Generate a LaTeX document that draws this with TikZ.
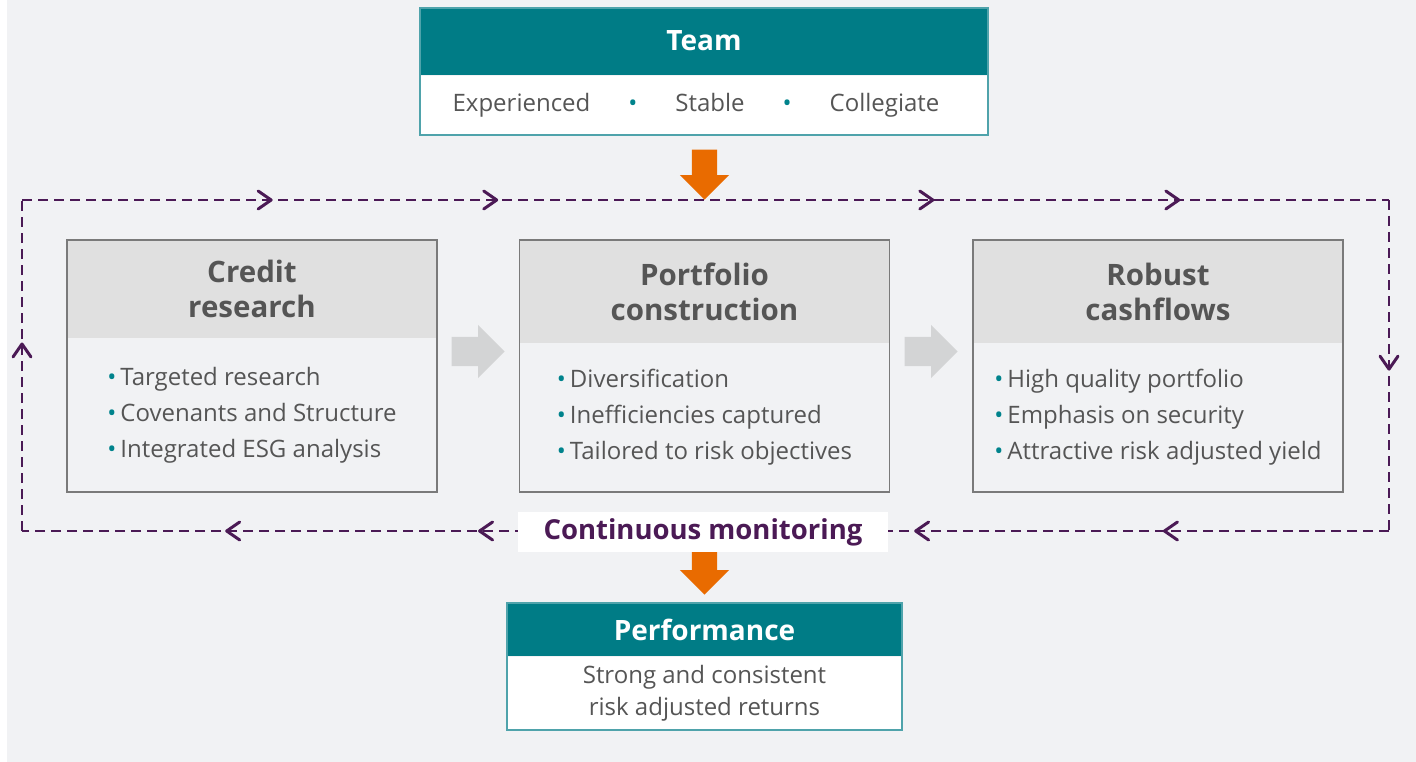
\documentclass[tikz,border=0pt]{standalone}
\usepackage{fontspec}
\setmainfont{Open Sans}
\usetikzlibrary{positioning, shapes.arrows, decorations.markings}

\definecolor{bgc}{HTML}{F1F2F4}
\definecolor{tealc}{HTML}{007C86}
\definecolor{tealedge}{HTML}{4FA3AB}
\definecolor{headc}{HTML}{E0E0E0}
\definecolor{boxc}{HTML}{7A7A7A}
\definecolor{textc}{HTML}{555555}
\definecolor{bulc}{HTML}{00838C}
\definecolor{orangec}{HTML}{E96B00}
\definecolor{purplec}{HTML}{4B1A55}
\definecolor{greyarrow}{HTML}{D3D4D5}

\newcommand{\bul}{\textcolor{bulc}{\textbullet}\hspace{4pt}}
\newcommand{\chev}{\draw[solid, line width=3pt, line join=round, line cap=round]
  (-14pt,-9pt) -- (-1pt,0pt) -- (-14pt,9pt);}

\tikzset{
  x=1pt, y=-1pt,
  teal head/.style={fill=tealc, text=white, inner sep=0pt,
    font=\bfseries\fontsize{28}{32}\selectfont},
  teal body/.style={fill=white, text=textc, inner sep=0pt, align=center,
    font=\fontsize{24}{32}\selectfont},
  stage head/.style={fill=headc, text=textc, inner sep=0pt, align=center,
    minimum width=370pt, font=\bfseries\fontsize{29.5}{35}\selectfont},
  stage body/.style={text=textc, inner sep=0pt, align=left,
    minimum width=370pt, font=\fontsize{24}{36}\selectfont},
  boxline/.style={draw=boxc, line width=1.5pt},
  tealline/.style={draw=tealedge, line width=1.5pt},
  loopline/.style={draw=purplec, line width=2pt, dash pattern=on 10pt off 6pt},
  looparrows/.style={postaction={decorate}},
  down arrow/.style={single arrow, fill=orangec, rotate=-90, anchor=tip, inner xsep=0pt, inner ysep=12.5pt,
    minimum height=50pt, minimum width=49pt, single arrow head extend=12pt},
  grey arrow/.style={single arrow, fill=greyarrow, anchor=tip, inner xsep=0pt, inner ysep=14.5pt,
    minimum height=53pt, minimum width=53pt, single arrow head extend=12pt},
}

\begin{document}
\begin{tikzpicture}
  \useasboundingbox (0,0) rectangle (1416,762);
  \fill[white] (0,0) rectangle (1416,762);
  \fill[bgc] (7,0) rectangle (1416,762);

  % team
  \node[teal head, anchor=north, minimum width=568pt, minimum height=67pt] (teamhead) at (704,8) {\raisebox{3pt}{Team}};
  \node[teal body, below=0pt of teamhead, minimum width=568pt, minimum height=59pt] (teambody)
    {\hspace*{-16pt}Experienced\hspace{38pt}\textcolor{bulc}{\textbullet}\hspace{38pt}Stable\hspace{38pt}\textcolor{bulc}{\textbullet}\hspace{38pt}Collegiate};
  \draw[tealline] (teamhead.north west) rectangle (teambody.south east);

  \node[down arrow] (down1) at (704.5,200) {};

  % loop
  \coordinate (lt) at (22,200);
  \coordinate (rt) at (1389,200);
  \coordinate (rb) at (1389,531);
  \coordinate (lb) at (22,531);
  \draw[loopline, looparrows, decoration={markings,
      mark=at position 0.183 with {\chev},
      mark=at position 0.348 with {\chev},
      mark=at position 0.667 with {\chev},
      mark=at position 0.847 with {\chev}}] (lt) -- (rt);
  \draw[loopline, looparrows, decoration={markings,
      mark=at position 0.514 with {\chev}}] (rt) -- (rb);
  \draw[loopline, looparrows, decoration={markings,
      mark=at position 0.165 with {\chev},
      mark=at position 0.347 with {\chev},
      mark=at position 0.666 with {\chev},
      mark=at position 0.851 with {\chev}}] (rb) -- (lb);
  \draw[loopline, looparrows, decoration={markings,
      mark=at position 0.568 with {\chev}}] (lb) -- (lt);

  % stages
  \node[stage head, anchor=north, minimum height=98pt] (credhead) at (252,240) {Credit\\research};
  \node[stage body, below=0pt of credhead, minimum height=153pt] (credbody)
    {\bul Targeted research\\\bul Covenants and Structure\\\bul Integrated ESG analysis};
  \draw[boxline] (credhead.north west) rectangle (credbody.south east);

  \node[stage head, anchor=north, minimum height=103pt] (porthead) at (704.5,240) {Portfolio\\construction};
  \node[stage body, below=0pt of porthead, minimum height=148pt] (portbody)
    {\bul Diversification\\\bul Inefficiencies captured\\\bul Tailored to risk objectives};
  \draw[boxline] (porthead.north west) rectangle (portbody.south east);

  \node[stage head, anchor=north, minimum height=103pt] (cashhead) at (1158,240) {Robust\\cashflows};
  \node[stage body, below=0pt of cashhead, minimum height=148pt] (cashbody)
    {\bul High quality portfolio\\\bul Emphasis on security\\\bul Attractive risk adjusted yield};
  \draw[boxline] (cashhead.north west) rectangle (cashbody.south east);

  \node[grey arrow] (grey1) at (505,351.5) {};
  \node[grey arrow] (grey2) at (958,351.5) {};

  % monitoring
  \node[down arrow] (down2) at (704.5,595) {};
  \node[fill=white, text=purplec, minimum width=370pt, minimum height=40pt, inner sep=0pt,
    font=\bfseries\fontsize{27.5}{32}\selectfont] (monitor) at (703,532) {Continuous monitoring};

  % performance
  \node[teal head, anchor=north, minimum width=395pt, minimum height=53pt] (perfhead) at (704.5,603) {Performance};
  \node[teal body, below=0pt of perfhead, minimum width=395pt, minimum height=73pt] (perfbody)
    {Strong and consistent\\risk adjusted returns};
  \draw[tealline] (perfhead.north west) rectangle (perfbody.south east);
\end{tikzpicture}
\end{document}
